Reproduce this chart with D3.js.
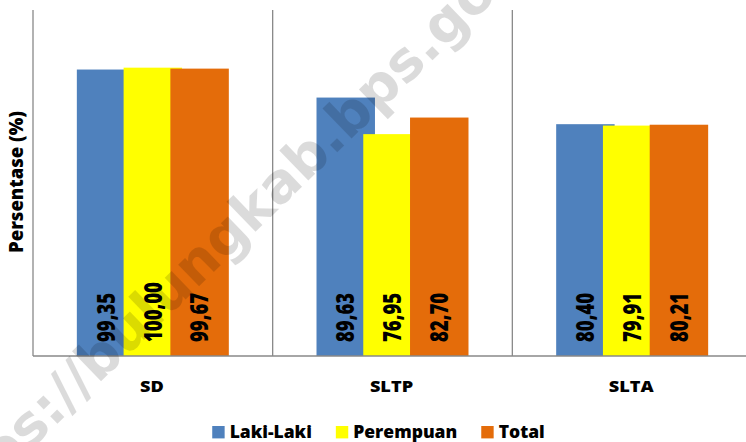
<!DOCTYPE html>
<html>
<head>
<meta charset="utf-8">
<script src="https://cdn.jsdelivr.net/npm/d3@7"></script>
<style>
  body { margin: 0; background: #fff; }
  text { font-family: "Open Sans", sans-serif; font-weight: 800; fill: #000; }
</style>
</head>
<body>
<svg id="chart" width="746" height="442"></svg>
<script>
// Data
var categories = ['SD', 'SLTP', 'SLTA'];
var seriesNames = ['Laki-Laki', 'Perempuan', 'Total'];
var lakiLaki  = [99.35, 89.63, 80.40];
var perempuan = [100.00, 76.95, 79.91];
var total     = [99.67, 82.70, 80.21];
var yTicks = [0, 120];   // axis range, no tick labels shown

var seriesValues = [lakiLaki, perempuan, total];
var colors = ['#4F81BD', '#FFFF00', '#E46C0A'];

var svg = d3.select('#chart');
var mLeft = 33, mRight = 752, mTop = 10, mBottom = 356;

var x = d3.scaleBand().domain(categories).range([mLeft, mRight]).padding(0);
var y = d3.scaleLinear().domain(d3.extent(yTicks)).range([mBottom, mTop]);

// Excel-like layout: overlap 20%, gap width 150%
var bw = x.bandwidth() / 4.1;
var step = bw * 0.8;
var offset = bw * 0.75;

// Category separators (incl. left axis)
var seps = categories.map(function(c){ return x(c); }).concat([mRight]);
svg.append('g').selectAll('line')
    .data(seps)
  .enter().append('line')
    .attr('x1', function(d){ return d; })
    .attr('x2', function(d){ return d; })
    .attr('y1', mTop)
    .attr('y2', mBottom)
    .attr('stroke', '#898989')
    .attr('stroke-width', 1.3);

// Bars: later series drawn over earlier ones
var bars = [];
seriesValues.forEach(function(vals, s)
{
    vals.forEach(function(v, i)
    {   bars.push({cat: categories[i], s: s, v: v});
    });
});

svg.append('g').selectAll('rect')
    .data(bars)
  .enter().append('rect')
    .attr('x', function(d){ return x(d.cat) + offset + d.s * step; })
    .attr('y', function(d){ return y(d.v); })
    .attr('width', bw)
    .attr('height', function(d){ return y(0) - y(d.v); })
    .attr('fill', function(d){ return colors[d.s]; });

// Baseline
svg.append('line')
    .attr('x1', mLeft).attr('x2', 746)
    .attr('y1', mBottom).attr('y2', mBottom)
    .attr('stroke', '#898989')
    .attr('stroke-width', 1.3);

// Value labels, rotated, at the bar base
svg.append('g').selectAll('text')
    .data(bars)
  .enter().append('text')
    .attr('transform', function(d)
    {   var cx = x(d.cat) + offset + d.s * step + bw / 2;
        return 'translate(' + cx + ',' + (mBottom - 14) + ') scale(1.3,1) rotate(-90)';
    })
    .attr('dy', '0.36em')
    .style('font-size', '18.5px')
    .text(function(d){ return d.v.toFixed(2).replace('.', ','); });

// Category labels
svg.append('g').selectAll('text')
    .data(categories)
  .enter().append('text')
    .attr('transform', function(d){ return 'translate(' + (x(d) + x.bandwidth() / 2 - 1) + ',392) scale(1.1,1)'; })
    .attr('text-anchor', 'middle')
    .style('font-size', '16.5px')
    .text(function(d){ return d; });

// Y axis title
svg.append('text')
    .attr('transform', 'translate(23,182) rotate(-90)')
    .attr('text-anchor', 'middle')
    .style('font-size', '18.5px')
    .text('Persentase (%)');

// Legend
var lg = svg.append('g');
var items = lg.selectAll('g')
    .data(seriesNames)
  .enter().append('g');
items.append('rect')
    .attr('width', 12.4).attr('height', 12.4)
    .attr('y', 426)
    .attr('fill', function(d, i){ return colors[i]; });
items.append('text')
    .attr('x', 17.4)
    .attr('y', 438)
    .style('font-size', '17.5px')
    .text(function(d){ return d; });
var gap = 24;
var pos = 0, starts = [];
items.each(function()
{   starts.push(pos);
    pos += 17.4 + d3.select(this).select('text').node().getComputedTextLength() + gap;
});
var totalW = pos - gap;
var lx = 378.5 - totalW / 2;
items.attr('transform', function(d, i){ return 'translate(' + (lx + starts[i]) + ',0)'; });

// Watermark
svg.append('text')
    .attr('transform', 'translate(-64.6,541.9) rotate(-44.1)')
    .style('font-family', '"DejaVu Sans", sans-serif')
    .style('font-weight', 'bold')
    .style('font-size', '55px')
    .style('fill', '#000')
    .style('fill-opacity', 0.14)
    .text('https://bulungkab.bps.go.id');
</script>
</body>
</html>
